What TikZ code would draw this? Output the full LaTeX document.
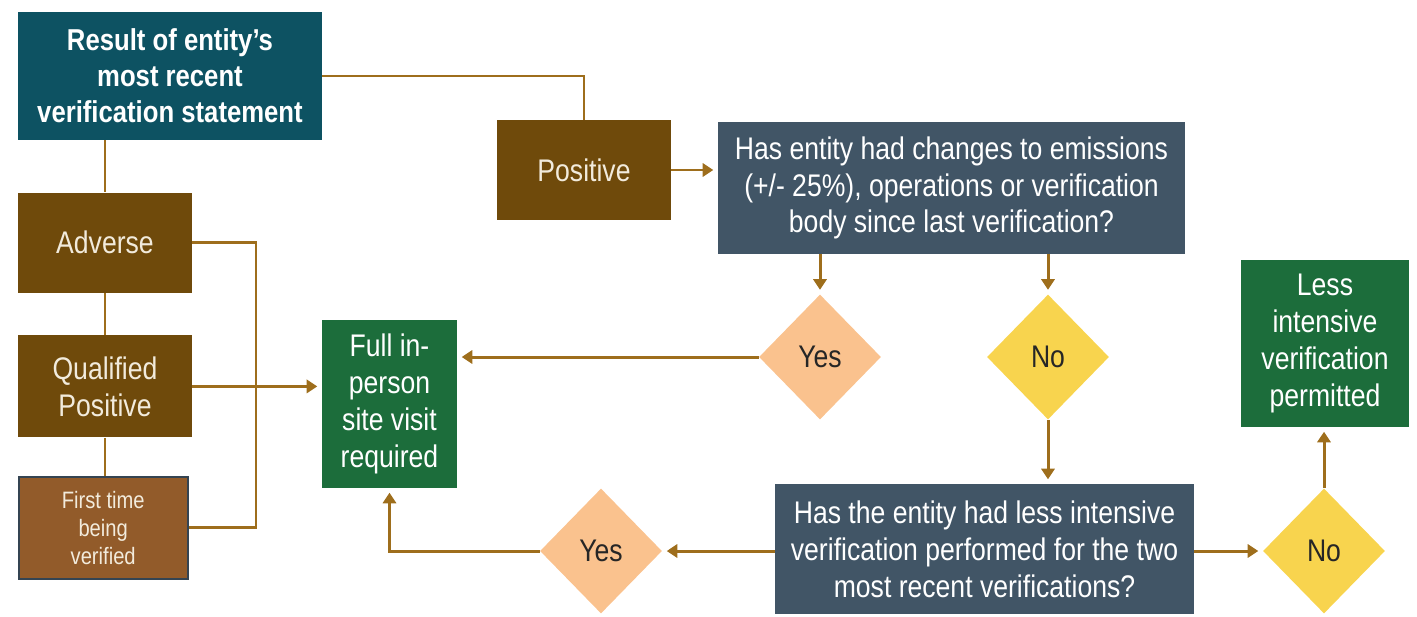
\documentclass[tikz,border=0pt]{standalone}
\usepackage{fontspec}
\setmainfont{Liberation Sans}[FakeStretch=0.85]
\usepackage{xcolor}
\usepackage{tikz}
\usetikzlibrary{arrows.meta,positioning,shapes.geometric}

\definecolor{tealbox}{HTML}{0D5262}
\definecolor{brownbox}{HTML}{6F4A0B}
\definecolor{lightbrown}{HTML}{925B2A}
\definecolor{slatebox}{HTML}{415566}
\definecolor{greenbox}{HTML}{1C6D3B}
\definecolor{peach}{HTML}{FAC28E}
\definecolor{sun}{HTML}{F8D44E}
\definecolor{link}{HTML}{9E6E1C}
\definecolor{cream}{HTML}{F2EBDC}

\begin{document}
\begin{tikzpicture}[
    font=\fontsize{17.8}{21}\selectfont,
    box/.style={inner sep=2pt, align=center, text=white},
    headbox/.style={box, fill=tealbox, font=\fontsize{17.2}{20.5}\selectfont\bfseries},
    outcome/.style={box, fill=brownbox, text=cream, minimum width=3.48cm},
    question/.style={box, fill=slatebox},
    result/.style={box, fill=greenbox},
    dia/.style={diamond, inner sep=0pt, minimum width=2.44cm, minimum height=2.5cm, text=black!85},
    yesdia/.style={dia, fill=peach},
    nodia/.style={dia, fill=sun},
    line/.style={draw=link, line width=1.7pt},
    arrow/.style={line, -{Triangle[length=6pt,width=7.5pt]}, shorten >=2.5pt}
]
\useasboundingbox (0,0) rectangle (28.34,-12.32);

\node[headbox, minimum width=6.08cm, minimum height=2.56cm] (res) at (3.4,-1.52) {Result of entity's\\most recent\\verification statement};
\node[outcome, minimum height=2cm, below=1.04cm of res.south west, anchor=north west] (adverse) {Adverse};
\node[outcome, minimum height=2.04cm, below=0.84cm of adverse] (qualified) {Qualified\\Positive};
\node[outcome, fill=lightbrown, draw=slatebox!80!black, line width=1.2pt, minimum width=3.38cm, minimum height=2.04cm,
      below=0.76cm of qualified.south west, anchor=north west, font=\fontsize{13.5}{16}\selectfont] (first) {First time\\being\\verified};
\node[outcome, minimum height=2cm] (positive) at (11.68,-3.4) {Positive};
\node[question, minimum width=9.34cm, minimum height=2.64cm] (chg) at (19.03,-3.76) {Has entity had changes to emissions\\(+/- 25\%), operations or verification\\body since last verification?};
\node[result, minimum width=2.7cm, minimum height=3.36cm] (full) at (7.79,-8.08) {Full in-\\person\\site visit\\required};
\node[yesdia] (yes1) at (16.4,-7.14) {Yes};
\node[nodia] (no1) at (20.96,-7.14) {No};
\node[result, minimum width=3.36cm, minimum height=3.34cm] (less) at (26.5,-6.87) {Less\\intensive\\verification\\permitted};
\node[question, minimum width=8.38cm, minimum height=2.6cm] (twice) at (19.69,-10.98) {Has the entity had less intensive\\verification performed for the two\\most recent verifications?};
\node[yesdia] (yes2) at (12.02,-11.02) {Yes};
\node[nodia] (no2) at (26.48,-11.02) {No};
\coordinate (bus) at (5.12,-4.8);

% left column
\draw[line] (res.south -| adverse.north) -- (adverse.north);
\draw[line] (adverse.south) -- (qualified.north);
\draw[line] (qualified.south) -- (qualified.south |- first.north);
\draw[line] (adverse.east) -| (bus |- first.east) -- (first.east);
\draw[arrow] (qualified.east) -- (qualified.east -| full.west);

% top branch
\draw[line] (res.east) -| (positive.north);
\draw[arrow] (positive.east) -- (positive.east -| chg.west);
\draw[arrow] (chg.south -| yes1.north) -- (yes1.north);
\draw[arrow] (chg.south -| no1.north) -- (no1.north);
\draw[arrow] (yes1.west) -- (yes1.west -| full.east);
\draw[arrow] (no1.south) -- (no1.south |- twice.north);

% bottom branch
\draw[arrow] (yes2.east -| twice.west) -- (yes2.east);
\draw[arrow] (yes2.west) -| (full.south);
\draw[arrow] (no2.west -| twice.east) -- (no2.west);
\draw[arrow] (no2.north) -- (no2.north |- less.south);
\end{tikzpicture}
\end{document}
